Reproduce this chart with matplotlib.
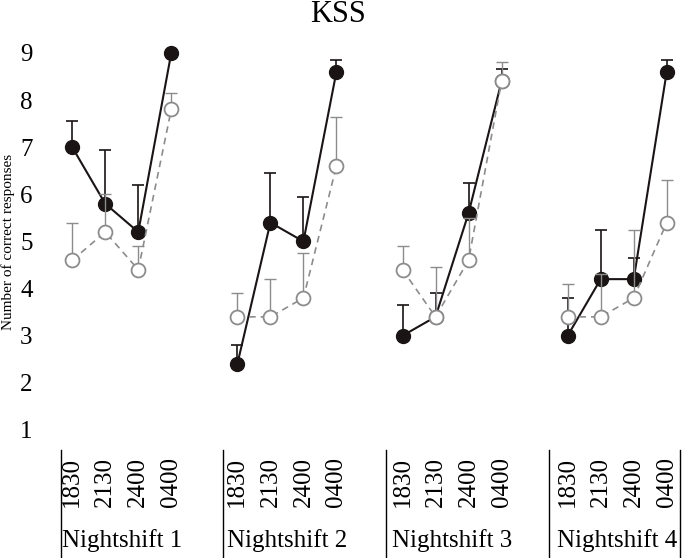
import numpy as np
import matplotlib
matplotlib.use('Agg')
import matplotlib.pyplot as plt
from matplotlib import transforms

plt.rcParams['font.family'] = ['Liberation Serif', 'DejaVu Serif']

# data
shifts = ['Nightshift 1', 'Nightshift 2', 'Nightshift 3', 'Nightshift 4']
times = ['1830', '2130', '2400', '0400']

black_mean = [7.0, 5.8, 5.2, 9.0, 2.4, 5.4, 5.0, 8.6, 3.0, 3.4, 5.6, 8.4, 3.0, 4.2, 4.2, 8.6]
black_err = [0.55, 1.15, 1.0, 0.0, 0.4, 1.05, 0.95, 0.25, 0.65, 0.5, 0.65, 0.25, 0.8, 1.05, 0.45, 0.25]
gray_mean = [4.6, 5.2, 4.4, 7.8, 3.4, 3.4, 3.8, 6.6, 4.4, 3.4, 4.6, 8.4, 3.4, 3.4, 3.8, 5.4]
gray_err = [0.8, 0.8, 0.5, 0.35, 0.5, 0.8, 0.95, 1.05, 0.5, 1.05, 0.9, 0.4, 0.7, 0.9, 1.45, 0.9]

black = '#1a1414'
gray = '#8c8c8c'

fig = plt.figure(figsize=(6.82, 5.58), dpi=100)
ax = fig.add_axes([0.0865, 0.1935, 0.9105, 0.754])

xs_all = []
for g in range(len(shifts)):
    x = np.arange(4) + 5 * g
    xs_all.extend(x)
    sl = slice(4 * g, 4 * g + 4)
    bm = np.array(black_mean[sl]); be = np.array(black_err[sl])
    gm = np.array(gray_mean[sl]); ge = np.array(gray_err[sl])
    # black series
    ax.errorbar(x, bm, yerr=[np.zeros(4), be], fmt='none', ecolor=black,
                elinewidth=1.2, capsize=4, capthick=1.2, zorder=2)
    ax.plot(x, bm, '-', color=black, lw=1.5, marker='o', ms=10,
            mfc=black, mec=black, zorder=3)
    # gray series
    ax.errorbar(x, gm, yerr=[np.zeros(4), ge], fmt='none', ecolor=gray,
                elinewidth=1.0, capsize=4, capthick=1.0, zorder=4)
    ax.plot(x, gm, '--', color=gray, lw=1.2, dashes=(4, 3), zorder=4)
    ax.plot(x, gm, 'o', ms=10, mfc='white', mec=gray, mew=1.3, zorder=5)

ax.set_xlim(-0.4, 18.4)
ax.set_ylim(0.575, 9.5)
ax.set_yticks(range(1, 10))
ax.set_xticks(xs_all)
ax.set_xticklabels(times * len(shifts), rotation=90, va='top', ha='center')
ax.tick_params(axis='y', length=0, pad=19, labelsize=18)
ax.tick_params(axis='x', length=0, pad=5, labelsize=18)
for s in ax.spines.values():
    s.set_visible(False)

# group separators below the axis
trans = transforms.blended_transform_factory(ax.transData, ax.transAxes)
for g, name in enumerate(shifts):
    ax.text(5 * g + 1.5, -0.214, name, transform=trans, ha='center',
            va='center', fontsize=18)
    sx = 5 * g - 0.35 - 0.07 * g
    ax.plot([sx, sx], [0, -0.26], transform=trans,
            color='black', lw=1, clip_on=False)
ax.plot([18.4, 18.4], [0, -0.26], transform=trans, color='black', lw=1,
        clip_on=False)

fig.text(338 / 682, 1 - 14 / 558, 'KSS', ha='center', va='center', fontsize=22)
fig.text(8 / 682, 1 - 242 / 558, 'Number of correct responses', rotation=90,
         ha='center', va='center', fontsize=11)

fig.savefig('out.png', dpi=100)
